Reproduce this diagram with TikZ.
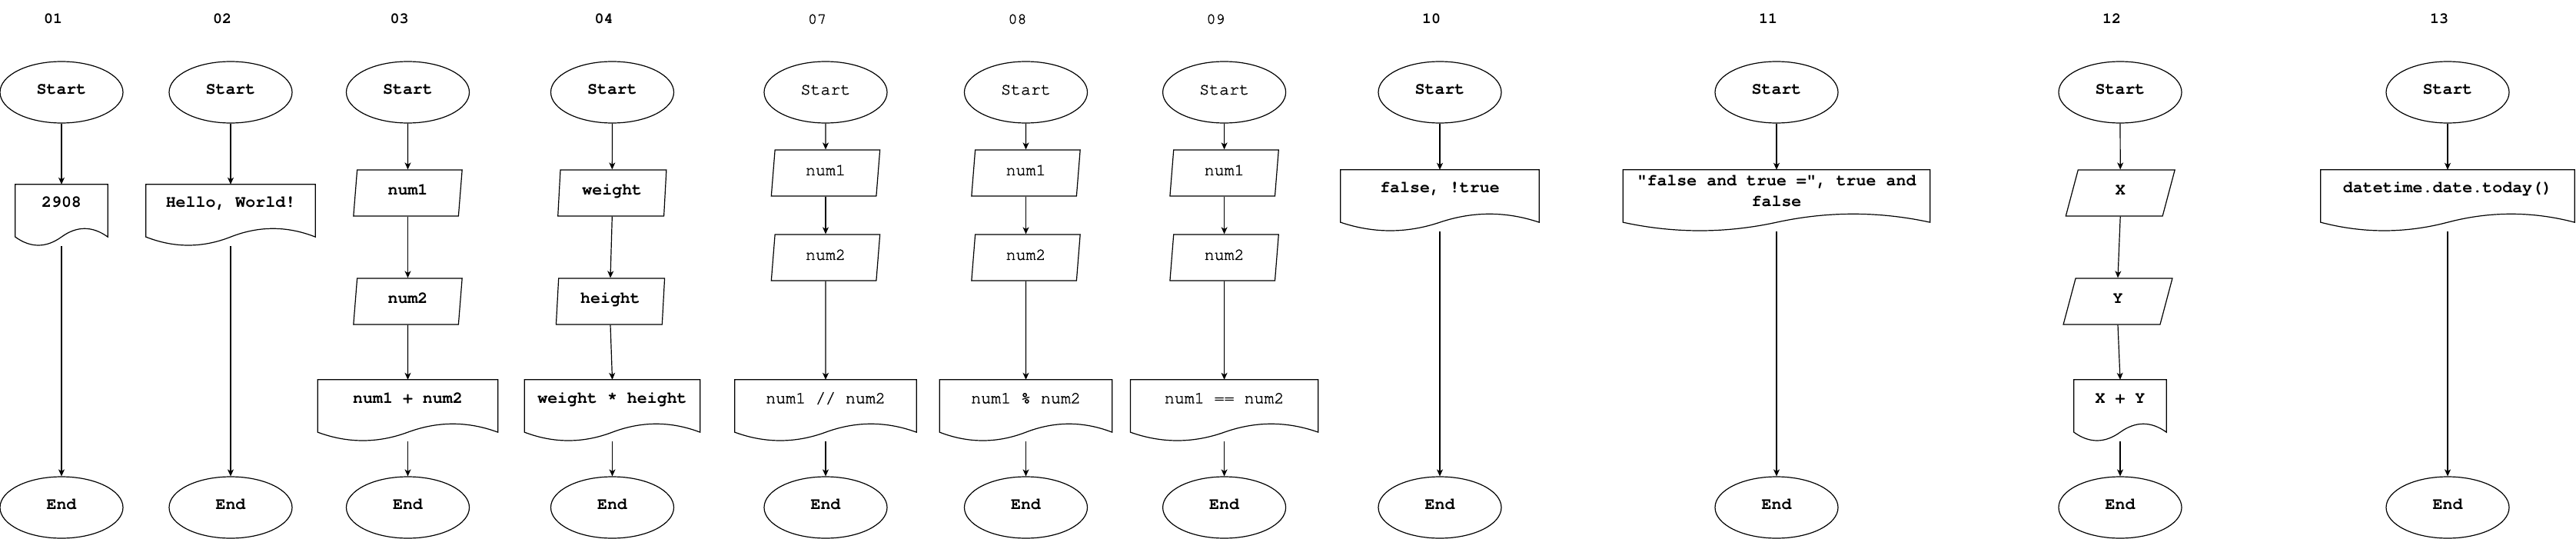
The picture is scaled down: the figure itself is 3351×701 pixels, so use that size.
\documentclass[tikz,border=0pt]{standalone}
\usepackage{fontspec}
\setmonofont{TeX Gyre Cursor}
\newfontfamily\medmono{TeX Gyre Cursor}[FakeBold=1.6]
\usetikzlibrary{shapes.geometric,arrows.meta,calc}
\newcommand\drawdoc[1]{%
 \draw[shapeline] let \p1=(#1.north west), \p2=(#1.south east), \n1={\x2-\x1}, \n2={\y2-\y1} in
 (\x1,\y1) -- (\x2,\y1) -- (\x2,{\y1+0.85*\n2})
 .. controls ({\x1+0.8333*\n1},{\y1+0.67*\n2}) and ({\x1+0.6667*\n1},{\y1+0.67*\n2}) .. ({\x1+0.5*\n1},{\y1+0.85*\n2})
 .. controls ({\x1+0.3333*\n1},{\y1+1.03*\n2}) and ({\x1+0.1667*\n1},{\y1+1.03*\n2}) .. (\x1,{\y1+0.85*\n2}) -- cycle;}
\tikzset{
 fnt/.style={font=\ttfamily\bfseries\fontsize{21.6}{27}\selectfont},
 lfnt/.style={font=\medmono\fontsize{21.6}{27}\selectfont},
 tc/.style={text height=0.58em, text depth=0pt, inner sep=0pt},
 shapeline/.style={draw, line width=1.2pt},
 term/.style={tc, shapeline, ellipse, minimum width=160pt, minimum height=80pt},
 io/.style={tc, shapeline, trapezium, trapezium left angle=72, trapezium right angle=108, trapezium stretches=true, minimum width=142pt, minimum height=60pt},
 docbox/.style={inner sep=0pt, minimum height=80pt},
 num/.style={font=\ttfamily\bfseries\fontsize{20}{24}\selectfont, tc},
 lnum/.style={font=\medmono\fontsize{20}{24}\selectfont, tc},
 conn/.style={draw, line width=1.2pt, -{Stealth[length=9pt,width=8pt,inset=2.5pt]}},
}
\begin{document}
\begin{tikzpicture}[x=1pt,y=-1pt]
\fill[white] (0,0) rectangle (3351,701);
\useasboundingbox (0,0) rectangle (3351,701);
% 01
\node[num] (L1) at (69,28) {01};
\node[term,fnt] (S1) at (80,120) {Start};
\node[docbox,minimum width=120pt] (D1) at (80,280) {};
\drawdoc{D1}
\node[fnt,tc] (T1) at (80,267) {2908};
\node[term,fnt] (E1) at (80,660) {End};
\draw[conn] (S1.south) -- (D1.north);
\draw[conn] (D1.south) -- (E1.north);
% 02
\node[num] (L2) at (289,28) {02};
\node[term,fnt] (S2) at (300,120) {Start};
\node[docbox,minimum width=220pt] (D2) at (300,280) {};
\drawdoc{D2}
\node[fnt,tc] (T2) at (300,267) {Hello, World!};
\node[term,fnt] (E2) at (300,660) {End};
\draw[conn] (S2.south) -- (D2.north);
\draw[conn] (D2.south) -- (E2.north);
% 03
\node[num] (L3) at (519.5,28) {03};
\node[term,fnt] (S3) at (530.5,120) {Start};
\node[io,fnt] (P3a) at (530.5,251) {num1};
\node[io,fnt] (P3b) at (530.5,392) {num2};
\node[docbox,minimum width=234pt] (D3) at (530.5,534) {};
\drawdoc{D3}
\node[fnt,tc] (T3) at (530.5,521.5) {num1 + num2};
\node[term,fnt] (E3) at (530.5,660) {End};
\draw[conn] (S3.south) -- (P3a.north);
\draw[conn] (P3a.south) -- (P3b.north);
\draw[conn] (P3b.south) -- (D3.north);
\draw[conn] (D3.south) -- (E3.north);
% 04
\node[num] (L4) at (785.5,28) {04};
\node[term,fnt] (S4) at (796.5,120) {Start};
\node[io,fnt] (P4a) at (796.3,251) {weight};
\node[io,fnt] (P4b) at (794,392) {height};
\node[docbox,minimum width=228pt] (D4) at (796.5,534) {};
\drawdoc{D4}
\node[fnt,tc] (T4) at (796.5,521.5) {weight * height};
\node[term,fnt] (E4) at (796.5,660) {End};
\draw[conn] (S4.south) -- (P4a.north);
\draw[conn] (P4a.south) -- (P4b.north);
\draw[conn] (P4b.south) -- (D4.north);
\draw[conn] (D4.south) -- (E4.north);
% 07
\node[lnum] (L7) at (1063,28) {07};
\node[term,lfnt] (S7) at (1074,120) {Start};
\node[io,lfnt] (P7a) at (1074,225) {num1};
\node[io,lfnt] (P7b) at (1074,335) {num2};
\node[docbox,minimum width=236pt] (D7) at (1074,534) {};
\drawdoc{D7}
\node[lfnt,tc] (T7) at (1074,521.5) {num1 // num2};
\node[term,fnt] (E7) at (1074,660) {End};
\draw[conn] (S7.south) -- (P7a.north);
\draw[conn] (P7a.south) -- (P7b.north);
\draw[conn] (P7b.south) -- (D7.north);
\draw[conn] (D7.south) -- (E7.north);
% 08
\node[lnum] (L8) at (1323.5,28) {08};
\node[term,lfnt] (S8) at (1334.5,120) {Start};
\node[io,lfnt] (P8a) at (1334.5,225) {num1};
\node[io,lfnt] (P8b) at (1334.5,335) {num2};
\node[docbox,minimum width=224pt] (D8) at (1334.5,534) {};
\drawdoc{D8}
\node[lfnt,tc] (T8) at (1334.5,521.5) {num1 \% num2};
\node[term,fnt] (E8) at (1334.5,660) {End};
\draw[conn] (S8.south) -- (P8a.north);
\draw[conn] (P8a.south) -- (P8b.north);
\draw[conn] (P8b.south) -- (D8.north);
\draw[conn] (D8.south) -- (E8.north);
% 09
\node[lnum] (L9) at (1581.5,28) {09};
\node[term,lfnt] (S9) at (1592.6,120) {Start};
\node[io,lfnt] (P9a) at (1592.6,225) {num1};
\node[io,lfnt] (P9b) at (1592.6,335) {num2};
\node[docbox,minimum width=244pt] (D9) at (1592.6,534) {};
\drawdoc{D9}
\node[lfnt,tc] (T9) at (1592.6,521.5) {num1 == num2};
\node[term,fnt] (E9) at (1592.6,660) {End};
\draw[conn] (S9.south) -- (P9a.north);
\draw[conn] (P9a.south) -- (P9b.north);
\draw[conn] (P9b.south) -- (D9.north);
\draw[conn] (D9.south) -- (E9.north);
% 10
\node[num] (L10) at (1862,28) {10};
\node[term,fnt] (S10) at (1873,120) {Start};
\node[docbox,minimum width=258pt] (D10) at (1873,261) {};
\drawdoc{D10}
\node[fnt,tc] (T10) at (1873,248) {false, !true};
\node[term,fnt] (E10) at (1873,660) {End};
\draw[conn] (S10.south) -- (D10.north);
\draw[conn] (D10.south) -- (E10.north);
% 11
\node[num] (L11) at (2300,28) {11};
\node[term,fnt] (S11) at (2311,120) {Start};
\node[docbox,minimum width=399pt] (D11) at (2311,261) {};
\drawdoc{D11}
\node[fnt,align=center,inner sep=0pt] (T11) at (2311,248) {"false and true =", true and\\false};
\node[term,fnt] (E11) at (2311,660) {End};
\draw[conn] (S11.south) -- (D11.north);
\draw[conn] (D11.south) -- (E11.north);
% 12
\node[num] (L12) at (2747,28) {12};
\node[term,fnt] (S12) at (2758,120) {Start};
\node[io,fnt] (P12a) at (2758.2,251) {X};
\node[io,fnt] (P12b) at (2755,392) {Y};
\node[docbox,minimum width=120pt] (D12) at (2758,534) {};
\drawdoc{D12}
\node[fnt,tc] (T12) at (2758,521.5) {X + Y};
\node[term,fnt] (E12) at (2758,660) {End};
\draw[conn] (S12.south) -- (P12a.north);
\draw[conn] (P12a.south) -- (P12b.north);
\draw[conn] (P12b.south) -- (D12.north);
\draw[conn] (D12.south) -- (E12.north);
% 13
\node[num] (L13) at (3173,28) {13};
\node[term,fnt] (S13) at (3184,120) {Start};
\node[docbox,minimum width=330pt] (D13) at (3184,261) {};
\drawdoc{D13}
\node[fnt,tc] (T13) at (3184,248) {datetime.date.today()};
\node[term,fnt] (E13) at (3184,660) {End};
\draw[conn] (S13.south) -- (D13.north);
\draw[conn] (D13.south) -- (E13.north);
\end{tikzpicture}
\end{document}
